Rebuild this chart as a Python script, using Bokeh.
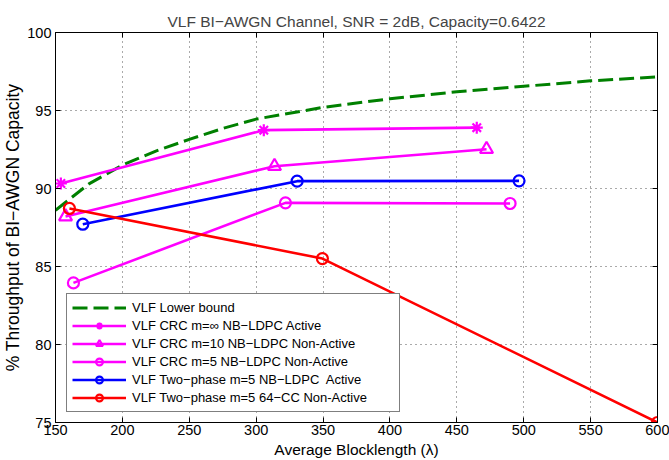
from bokeh.plotting import figure
from bokeh.models import LinearAxis, FixedTicker, Range1d
from bokeh.embed import file_html
from bokeh.resources import INLINE

# ---- data ----
lb_x = [150, 175, 200, 225, 250, 275, 300, 350, 400, 450, 500, 550, 600]
lb_y = [88.6, 90.3, 91.5, 92.4, 93.15, 93.85, 94.45, 95.2, 95.75, 96.2, 96.55, 96.9, 97.15]

crc_inf_x = [154, 305.7, 464.9]
crc_inf_y = [90.32, 93.74, 93.9]

crc10_x = [157.5, 313.7, 472.2]
crc10_y = [88.2, 91.43, 92.52]

crc5_x = [163.4, 321.9, 489.8]
crc5_y = [83.95, 89.08, 89.04]

two_ldpc_x = [170.4, 330.6, 496.5]
two_ldpc_y = [87.71, 90.47, 90.49]

two_cc_x = [160.4, 349.5, 600]
two_cc_y = [88.72, 85.51, 75.0]

x_ticks = [150, 200, 250, 300, 350, 400, 450, 500, 550, 600]
y_ticks = [75, 80, 85, 90, 95, 100]

title_text = "VLF BI\u2212AWGN Channel, SNR = 2dB, Capacity=0.6422"
x_label = "Average Blocklength (\u03bb)"
y_label = "% Throughput of BI\u2212AWGN Capacity"

labels = [
    "VLF Lower bound",
    "VLF CRC m=\u221e NB\u2212LDPC Active",
    "VLF CRC m=10 NB\u2212LDPC Non-Active",
    "VLF CRC m=5 NB\u2212LDPC Non-Active",
    "VLF Two\u2212phase m=5 NB\u2212LDPC  Active",
    "VLF Two\u2212phase m=5 64\u2212CC Non-Active",
]

FONT = "Liberation Sans"
MAG = "#FF00FF"
BLUE = "#0000FF"
RED = "#FF0000"
GREEN = "#008000"

p = figure(width=669, height=460, x_range=Range1d(150, 600), y_range=Range1d(75, 100),
           output_backend="svg", toolbar_location=None, title=title_text)

p.title.align = "center"
p.title.text_font = FONT
p.title.text_font_size = "15.5px"
p.title.text_font_style = "normal"
p.title.standoff = 6
p.title.offset = 0

p.min_border_left = 0
p.min_border_right = 12
p.min_border_top = 32
p.min_border_bottom = 0

p.outline_line_color = "black"
p.outline_line_width = 1
p.background_fill_color = "white"
p.border_fill_color = "white"

xt = FixedTicker(ticks=x_ticks)
yt = FixedTicker(ticks=y_ticks)

for ax, t in ((p.xaxis[0], xt), (p.yaxis[0], yt)):
    ax.ticker = t
    ax.major_tick_in = 5
    ax.major_tick_out = 0
    ax.minor_tick_line_color = None
    ax.axis_line_color = "black"
    ax.major_tick_line_color = "black"
    ax.major_label_text_font = FONT
    ax.major_label_text_font_size = "14.5px"
    ax.major_label_text_color = "black"
    ax.axis_label_text_font = FONT
    ax.axis_label_text_font_style = "normal"
    ax.axis_label_text_color = "black"

p.xaxis[0].axis_label = x_label
p.yaxis[0].axis_label = y_label
p.xaxis[0].axis_label_text_font_size = "15.5px"
p.yaxis[0].axis_label_text_font_size = "17.5px"
p.xaxis[0].major_label_standoff = 2
p.xaxis[0].axis_label_standoff = 3
p.yaxis[0].major_label_standoff = 4
p.yaxis[0].axis_label_standoff = 1

for loc, t in (("above", xt), ("right", yt)):
    a = LinearAxis(ticker=t, major_tick_in=5, major_tick_out=0,
                   minor_tick_line_color=None, axis_line_color="black",
                   major_label_text_color=None, major_label_text_font_size="1px",
                   major_label_standoff=0)
    p.add_layout(a, loc)

for g in (p.xgrid[0], p.ygrid[0]):
    g.grid_line_color = "#555555"
    g.grid_line_dash = "1 4"
    g.grid_line_width = 1
p.xgrid[0].ticker = xt
p.ygrid[0].ticker = yt

LW = 2.6
p.line(lb_x, lb_y, line_color=GREEN, line_width=3, line_dash="15 6", legend_label=labels[0])

series = [
    (crc_inf_x, crc_inf_y, MAG, "asterisk", 12, labels[1]),
    (crc10_x, crc10_y, MAG, "triangle", 13, labels[2]),
    (crc5_x, crc5_y, MAG, "circle", 11, labels[3]),
    (two_ldpc_x, two_ldpc_y, BLUE, "circle", 11, labels[4]),
    (two_cc_x, two_cc_y, RED, "circle", 11, labels[5]),
]
for xs, ys, c, m, s, lab in series:
    p.line(xs, ys, line_color=c, line_width=LW, legend_label=lab)
    p.scatter(xs, ys, marker=m, size=s, line_color=c, line_width=2.2,
              fill_color="white", fill_alpha=0.0, legend_label=lab)

lg = p.legend[0]
lg.location = (11, 10)
lg.border_line_color = "black"
lg.border_line_width = 1
lg.background_fill_color = "white"
lg.background_fill_alpha = 1
lg.label_text_font = FONT
lg.label_text_font_size = "13px"
lg.label_text_color = "black"
lg.glyph_width = 54
lg.glyph_height = 17
lg.label_height = 17
lg.label_width = 262
lg.label_standoff = 6
lg.spacing = 1
lg.padding = 5
lg.margin = 0

open("out.html", "w").write(file_html(p, INLINE))
